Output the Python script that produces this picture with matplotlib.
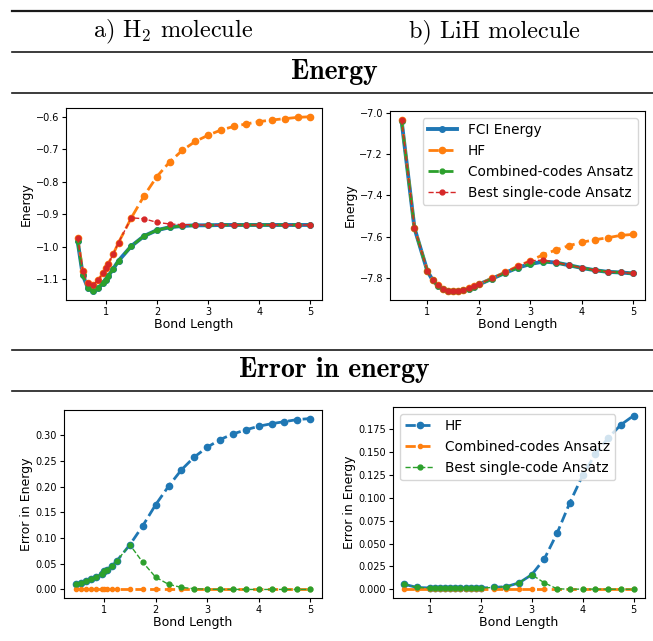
import numpy as np
import matplotlib
matplotlib.use("Agg")
import matplotlib.pyplot as plt
from matplotlib.lines import Line2D

plt.rcParams['mathtext.fontset'] = 'cm'

# --- H2 data ---
h2_r = [0.45, 0.55, 0.65, 0.75, 0.85, 0.95, 1.0, 1.05, 1.15, 1.25,
        1.5, 1.75, 2.0, 2.25, 2.5, 2.75, 3.0, 3.25, 3.5, 3.75, 4.0, 4.25, 4.5, 4.75, 5.0]
h2_fci = [-0.983, -1.087, -1.127, -1.137, -1.128, -1.111, -1.101, -1.090, -1.067, -1.043,
          -0.998, -0.967, -0.949, -0.940, -0.936, -0.934, -0.934, -0.933, -0.933, -0.933,
          -0.933, -0.933, -0.933, -0.933, -0.933]
h2_hf_err = [0.011, 0.013, 0.016, 0.020, 0.025, 0.031, 0.035, 0.038, 0.046, 0.056,
             0.087, 0.124, 0.165, 0.201, 0.233, 0.258, 0.277, 0.292, 0.303, 0.311,
             0.318, 0.323, 0.327, 0.331, 0.333]
h2_comb_err = [0.0] * 25
h2_single_err = [0.011, 0.013, 0.016, 0.020, 0.025, 0.031, 0.035, 0.038, 0.046, 0.056,
                 0.087, 0.053, 0.024, 0.010, 0.004, 0.0015, 0.0005, 0.0002, 0.0001, 0.0,
                 0.0, 0.0, 0.0, 0.0, 0.0]

# --- LiH data ---
lih_r = [0.5, 0.75, 1.0, 1.1, 1.2, 1.3, 1.4, 1.5, 1.6, 1.7, 1.8, 1.9, 2.0,
         2.25, 2.5, 2.75, 3.0, 3.25, 3.5, 3.75, 4.0, 4.25, 4.5, 4.75, 5.0]
lih_fci = [-7.037, -7.559, -7.767, -7.810, -7.838, -7.855, -7.864, -7.866, -7.864, -7.860,
           -7.853, -7.843, -7.832, -7.805, -7.777, -7.751, -7.733, -7.721, -7.726, -7.739,
           -7.752, -7.763, -7.771, -7.774, -7.779]
lih_hf_err = [0.0055, 0.002, 0.0015, 0.0015, 0.0015, 0.0015, 0.0015, 0.0015, 0.0015, 0.0015,
              0.0015, 0.0015, 0.0015, 0.002, 0.003, 0.007, 0.016, 0.0335, 0.0616, 0.095,
              0.1247, 0.148, 0.1655, 0.180, 0.190]
lih_comb_err = [0.0] * 25
lih_single_err = [0.0055, 0.002, 0.0015, 0.0015, 0.0015, 0.0015, 0.0015, 0.0015, 0.0015, 0.0015,
                  0.0015, 0.0015, 0.0015, 0.002, 0.003, 0.007, 0.016, 0.007, 0.0005, 0.0002,
                  0.0002, 0.0002, 0.0001, 0.0001, 0.0001]

C_BLUE, C_ORANGE, C_GREEN, C_RED = '#1f77b4', '#ff7f0e', '#2ca02c', '#d62728'


def energy_panel(ax, r, fci, hf_err, comb_err, single_err, legend=False):
    r = np.array(r)
    fci = np.array(fci)
    ax.plot(r, fci, '-', color=C_BLUE, lw=2.8, marker='o', ms=4, label='FCI Energy')
    ax.plot(r, fci + np.array(hf_err), '--', color=C_ORANGE, lw=2, marker='o', ms=4.5, label='HF')
    ax.plot(r, fci + np.array(comb_err), '--', color=C_GREEN, lw=2, marker='o', ms=3.5,
            label='Combined-codes Ansatz')
    ax.plot(r, fci + np.array(single_err), '--', color=C_RED, lw=1, marker='o', ms=3.5,
            label='Best single-code Ansatz')
    ax.set_xlabel('Bond Length', fontsize=9, labelpad=1)
    ax.set_ylabel('Energy', fontsize=9, labelpad=2)
    ax.tick_params(labelsize=7, length=3, pad=2)
    if legend:
        ax.legend(loc='upper right', fontsize=9.8, handlelength=2.1)


def error_panel(ax, r, hf_err, comb_err, single_err, legend=False):
    ax.plot(r, hf_err, '--', color=C_BLUE, lw=2, marker='o', ms=4.5, label='HF')
    ax.plot(r, comb_err, '--', color=C_ORANGE, lw=2, marker='o', ms=3, label='Combined-codes Ansatz')
    ax.plot(r, single_err, '--', color=C_GREEN, lw=1, marker='o', ms=3.5,
            label='Best single-code Ansatz')
    ax.set_xlabel('Bond Length', fontsize=9, labelpad=1)
    ax.set_ylabel('Error in Energy', fontsize=9, labelpad=2)
    ax.tick_params(labelsize=7, length=3, pad=2)
    if legend:
        ax.legend(loc='upper left', fontsize=9.8, handlelength=2.1)


W, H = 653, 641
fig = plt.figure(figsize=(W / 100, H / 100), dpi=100)


def box(l, r, t, b):
    return [l / W, 1 - b / H, (r - l) / W, (b - t) / H]


ax1 = fig.add_axes(box(66, 322, 108, 300))
ax2 = fig.add_axes(box(390, 645, 111, 300))
ax3 = fig.add_axes(box(64, 322, 410, 598))
ax4 = fig.add_axes(box(393, 645, 407, 598))

energy_panel(ax1, h2_r, h2_fci, h2_hf_err, h2_comb_err, h2_single_err)
energy_panel(ax2, lih_r, lih_fci, lih_hf_err, lih_comb_err, lih_single_err, legend=True)
error_panel(ax3, h2_r, h2_hf_err, h2_comb_err, h2_single_err)
error_panel(ax4, lih_r, lih_hf_err, lih_comb_err, lih_single_err, legend=True)

# table-like rules and headers
for yy, w in [(11, 1.6), (52, 1.2), (93, 1.2), (350, 1.2), (391, 1.2)]:
    fig.add_artist(Line2D([12 / W, 1], [1 - yy / H, 1 - yy / H], color='#1a1a1a', lw=w))

fig.text(173 / W, 1 - 32 / H, r'a) H$_2$ molecule', family='cmr10', fontsize=17.5,
         ha='center', va='center')
fig.text(494 / W, 1 - 32 / H, 'b) LiH molecule', family='cmr10', fontsize=17.5,
         ha='center', va='center')
fig.text(334 / W, 1 - 72 / H, 'Energy', family='cmb10', fontsize=20, ha='center', va='center')
fig.text(334 / W, 1 - 370 / H, 'Error in energy', family='cmb10', fontsize=20,
         ha='center', va='center')

fig.savefig('out.png', dpi=100)
